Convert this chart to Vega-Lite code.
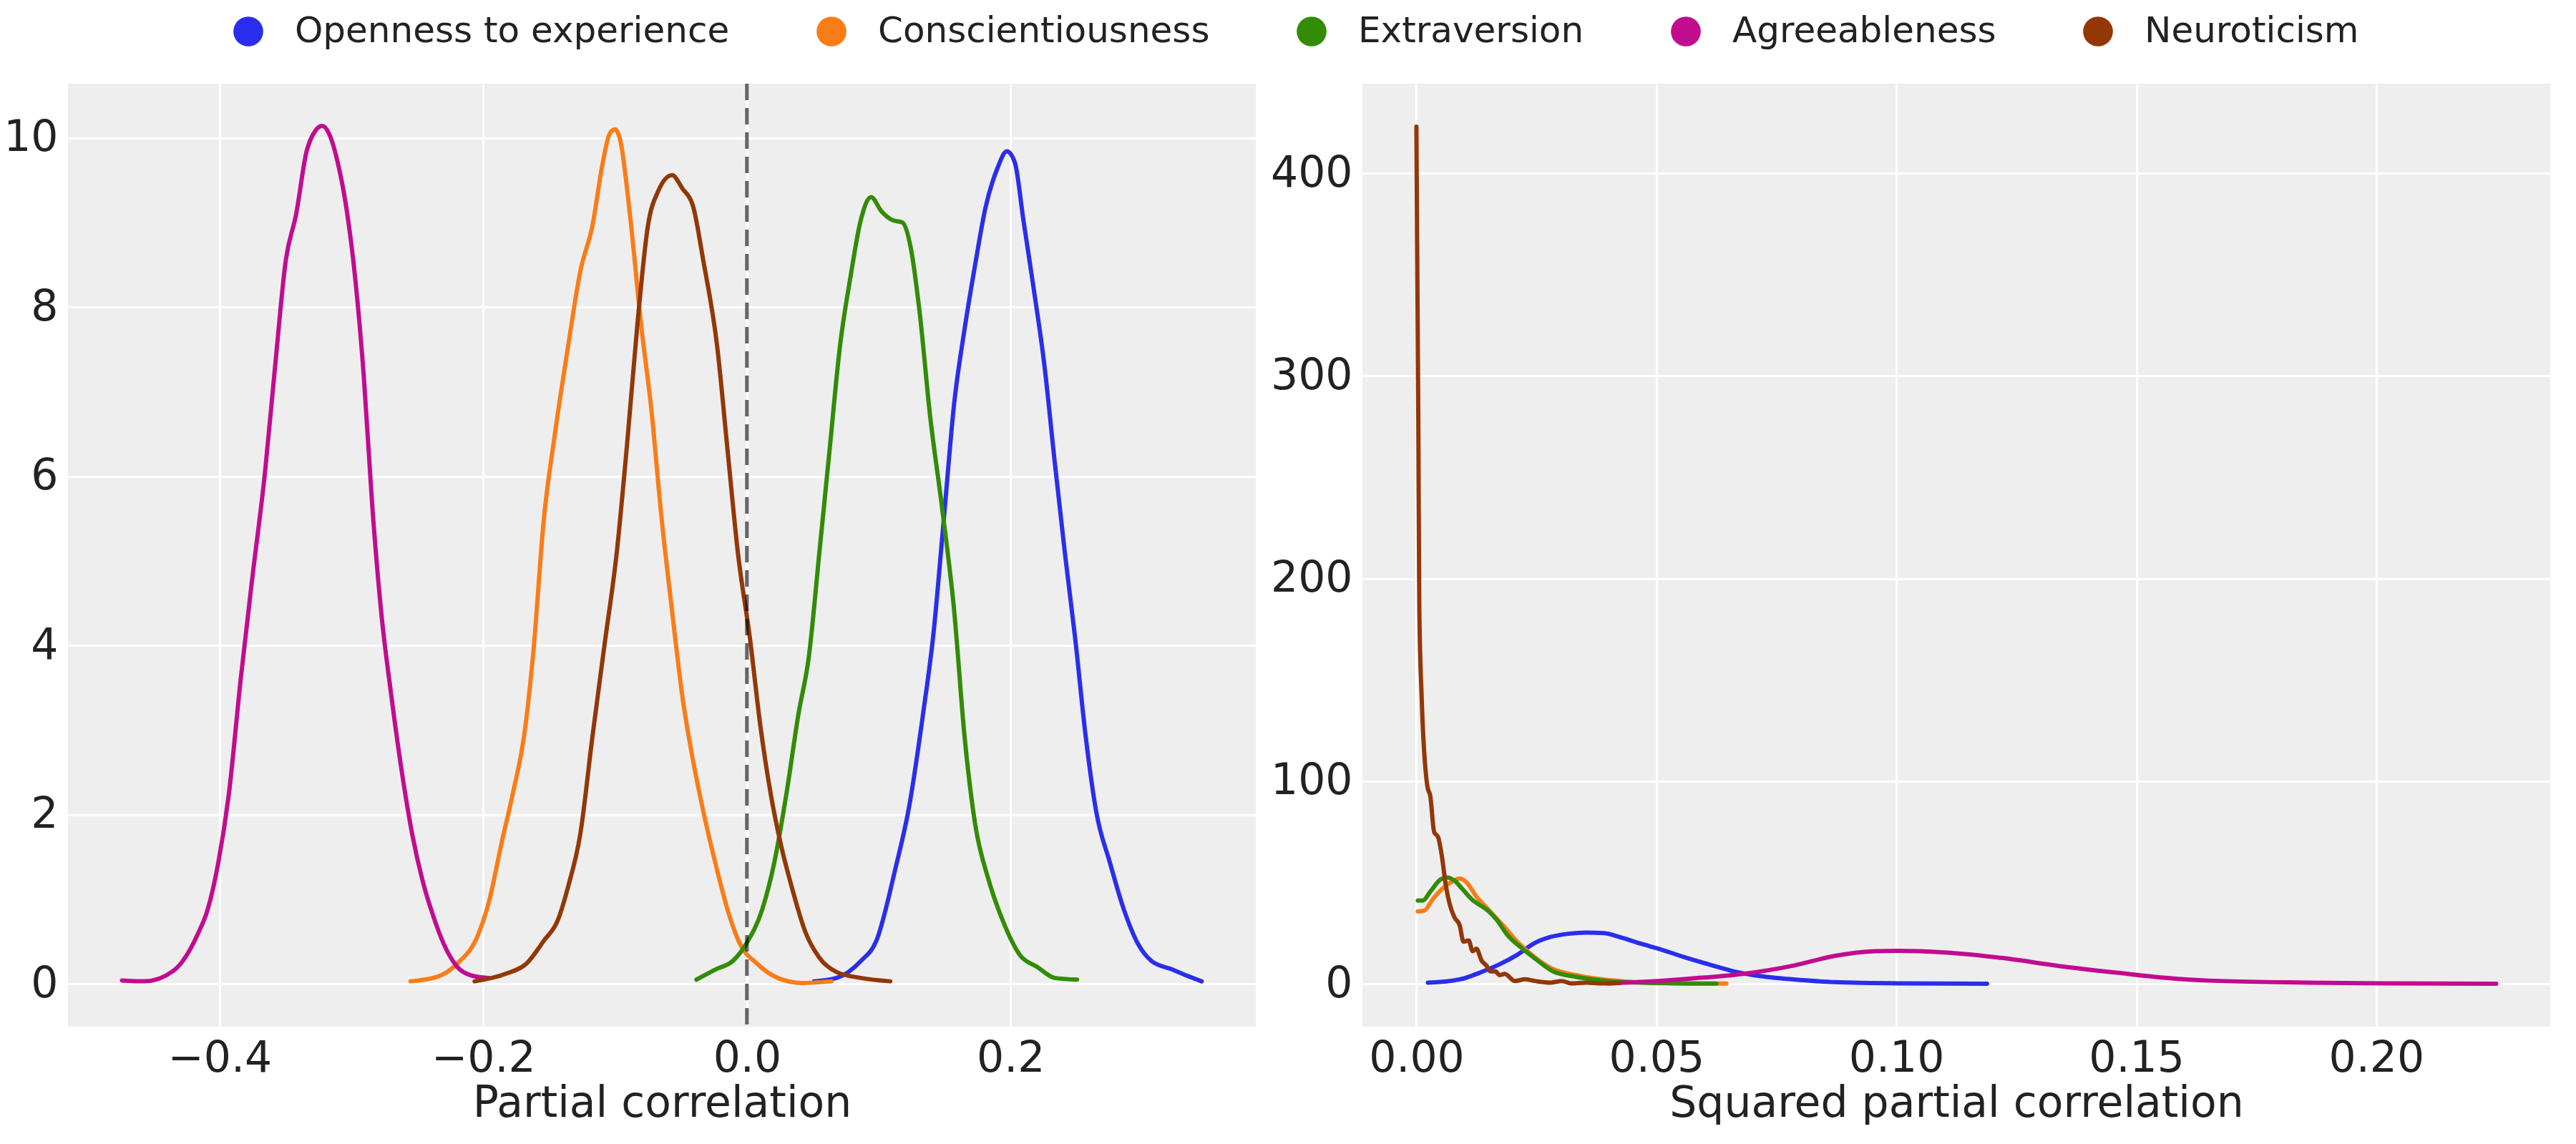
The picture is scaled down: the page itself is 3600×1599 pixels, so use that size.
{
  "$schema": "https://vega.github.io/schema/vega-lite/v6.json",
  "background": "white",
  "padding": {"left": 4, "top": 19, "right": 0, "bottom": 0},
  "bounds": "flush",
  "spacing": 149,
  "config": {
    "font": "DejaVu Sans",
    "view": {"fill": "#eeeeee", "stroke": null},
    "axis": {
      "domain": false, "ticks": false, "tickSize": 0,
      "grid": true, "gridColor": "white", "gridWidth": 3,
      "labelFont": "DejaVu Sans", "labelFontSize": 60, "labelColor": "#222222",
      "titleFont": "DejaVu Sans", "titleFontSize": 60, "titleFontWeight": "normal", "titleColor": "#222222"
    },
    "axisX": {"labelPadding": 15, "titlePadding": 4},
    "axisY": {"labelPadding": 14}
  },
  "datasets": {
    "partial": [
      {"trait": "Openness to experience", "x": 0.0509, "density": 0.03},
      {"trait": "Openness to experience", "x": 0.068, "density": 0.07},
      {"trait": "Openness to experience", "x": 0.0864, "density": 0.27},
      {"trait": "Openness to experience", "x": 0.0982, "density": 0.51},
      {"trait": "Openness to experience", "x": 0.1126, "density": 1.36},
      {"trait": "Openness to experience", "x": 0.1231, "density": 2.10},
      {"trait": "Openness to experience", "x": 0.1336, "density": 3.19},
      {"trait": "Openness to experience", "x": 0.1415, "density": 4.14},
      {"trait": "Openness to experience", "x": 0.1494, "density": 5.50},
      {"trait": "Openness to experience", "x": 0.1572, "density": 6.86},
      {"trait": "Openness to experience", "x": 0.1651, "density": 7.74},
      {"trait": "Openness to experience", "x": 0.173, "density": 8.49},
      {"trait": "Openness to experience", "x": 0.1809, "density": 9.17},
      {"trait": "Openness to experience", "x": 0.19, "density": 9.64},
      {"trait": "Openness to experience", "x": 0.1971, "density": 9.84},
      {"trait": "Openness to experience", "x": 0.2032, "density": 9.71},
      {"trait": "Openness to experience", "x": 0.2097, "density": 9.03},
      {"trait": "Openness to experience", "x": 0.2176, "density": 8.21},
      {"trait": "Openness to experience", "x": 0.2255, "density": 7.33},
      {"trait": "Openness to experience", "x": 0.2334, "density": 6.18},
      {"trait": "Openness to experience", "x": 0.2412, "density": 5.09},
      {"trait": "Openness to experience", "x": 0.2491, "density": 4.07},
      {"trait": "Openness to experience", "x": 0.257, "density": 2.92},
      {"trait": "Openness to experience", "x": 0.2649, "density": 2.04},
      {"trait": "Openness to experience", "x": 0.2754, "density": 1.43},
      {"trait": "Openness to experience", "x": 0.2859, "density": 0.88},
      {"trait": "Openness to experience", "x": 0.2964, "density": 0.48},
      {"trait": "Openness to experience", "x": 0.3069, "density": 0.27},
      {"trait": "Openness to experience", "x": 0.3226, "density": 0.17},
      {"trait": "Openness to experience", "x": 0.3331, "density": 0.10},
      {"trait": "Openness to experience", "x": 0.3449, "density": 0.03},

      {"trait": "Conscientiousness", "x": -0.2552, "density": 0.03},
      {"trait": "Conscientiousness", "x": -0.2355, "density": 0.08},
      {"trait": "Conscientiousness", "x": -0.2197, "density": 0.24},
      {"trait": "Conscientiousness", "x": -0.2039, "density": 0.58},
      {"trait": "Conscientiousness", "x": -0.196, "density": 0.95},
      {"trait": "Conscientiousness", "x": -0.1856, "density": 1.70},
      {"trait": "Conscientiousness", "x": -0.1777, "density": 2.24},
      {"trait": "Conscientiousness", "x": -0.1685, "density": 2.99},
      {"trait": "Conscientiousness", "x": -0.1619, "density": 3.94},
      {"trait": "Conscientiousness", "x": -0.154, "density": 5.50},
      {"trait": "Conscientiousness", "x": -0.1461, "density": 6.45},
      {"trait": "Conscientiousness", "x": -0.1356, "density": 7.54},
      {"trait": "Conscientiousness", "x": -0.1264, "density": 8.42},
      {"trait": "Conscientiousness", "x": -0.1172, "density": 8.96},
      {"trait": "Conscientiousness", "x": -0.1093, "density": 9.71},
      {"trait": "Conscientiousness", "x": -0.1041, "density": 10.05},
      {"trait": "Conscientiousness", "x": -0.1001, "density": 10.10},
      {"trait": "Conscientiousness", "x": -0.0962, "density": 9.98},
      {"trait": "Conscientiousness", "x": -0.0883, "density": 9.03},
      {"trait": "Conscientiousness", "x": -0.0804, "density": 7.81},
      {"trait": "Conscientiousness", "x": -0.0725, "density": 6.79},
      {"trait": "Conscientiousness", "x": -0.0647, "density": 5.50},
      {"trait": "Conscientiousness", "x": -0.0568, "density": 4.41},
      {"trait": "Conscientiousness", "x": -0.0489, "density": 3.39},
      {"trait": "Conscientiousness", "x": -0.041, "density": 2.65},
      {"trait": "Conscientiousness", "x": -0.0331, "density": 2.04},
      {"trait": "Conscientiousness", "x": -0.0235, "density": 1.40},
      {"trait": "Conscientiousness", "x": -0.0134, "density": 0.81},
      {"trait": "Conscientiousness", "x": -0.0055, "density": 0.48},
      {"trait": "Conscientiousness", "x": 0.0076, "density": 0.24},
      {"trait": "Conscientiousness", "x": 0.0234, "density": 0.07},
      {"trait": "Conscientiousness", "x": 0.0417, "density": 0.01},
      {"trait": "Conscientiousness", "x": 0.064, "density": 0.03},

      {"trait": "Extraversion", "x": -0.0383, "density": 0.05},
      {"trait": "Extraversion", "x": -0.0239, "density": 0.17},
      {"trait": "Extraversion", "x": -0.0108, "density": 0.27},
      {"trait": "Extraversion", "x": -0.0003, "density": 0.48},
      {"trait": "Extraversion", "x": 0.0116, "density": 0.88},
      {"trait": "Extraversion", "x": 0.0207, "density": 1.43},
      {"trait": "Extraversion", "x": 0.0299, "density": 2.24},
      {"trait": "Extraversion", "x": 0.0391, "density": 3.19},
      {"trait": "Extraversion", "x": 0.047, "density": 3.87},
      {"trait": "Extraversion", "x": 0.0549, "density": 5.09},
      {"trait": "Extraversion", "x": 0.0627, "density": 6.31},
      {"trait": "Extraversion", "x": 0.0706, "density": 7.54},
      {"trait": "Extraversion", "x": 0.0785, "density": 8.35},
      {"trait": "Extraversion", "x": 0.0864, "density": 9.03},
      {"trait": "Extraversion", "x": 0.0942, "density": 9.30},
      {"trait": "Extraversion", "x": 0.1021, "density": 9.13},
      {"trait": "Extraversion", "x": 0.11, "density": 9.03},
      {"trait": "Extraversion", "x": 0.1179, "density": 9.00},
      {"trait": "Extraversion", "x": 0.1244, "density": 8.69},
      {"trait": "Extraversion", "x": 0.131, "density": 7.94},
      {"trait": "Extraversion", "x": 0.1389, "density": 6.72},
      {"trait": "Extraversion", "x": 0.148, "density": 5.63},
      {"trait": "Extraversion", "x": 0.1572, "density": 4.41},
      {"trait": "Extraversion", "x": 0.1651, "density": 2.92},
      {"trait": "Extraversion", "x": 0.173, "density": 1.90},
      {"trait": "Extraversion", "x": 0.1835, "density": 1.22},
      {"trait": "Extraversion", "x": 0.194, "density": 0.75},
      {"trait": "Extraversion", "x": 0.2071, "density": 0.34},
      {"trait": "Extraversion", "x": 0.2202, "density": 0.20},
      {"trait": "Extraversion", "x": 0.2334, "density": 0.07},
      {"trait": "Extraversion", "x": 0.2504, "density": 0.05},

      {"trait": "Agreeableness", "x": -0.474, "density": 0.04},
      {"trait": "Agreeableness", "x": -0.457, "density": 0.03},
      {"trait": "Agreeableness", "x": -0.435, "density": 0.155},
      {"trait": "Agreeableness", "x": -0.4165, "density": 0.59},
      {"trait": "Agreeableness", "x": -0.409, "density": 0.88},
      {"trait": "Agreeableness", "x": -0.401, "density": 1.43},
      {"trait": "Agreeableness", "x": -0.393, "density": 2.24},
      {"trait": "Agreeableness", "x": -0.384, "density": 3.60},
      {"trait": "Agreeableness", "x": -0.375, "density": 4.82},
      {"trait": "Agreeableness", "x": -0.3656, "density": 6.04},
      {"trait": "Agreeableness", "x": -0.3577, "density": 7.33},
      {"trait": "Agreeableness", "x": -0.3498, "density": 8.55},
      {"trait": "Agreeableness", "x": -0.3419, "density": 9.10},
      {"trait": "Agreeableness", "x": -0.334, "density": 9.84},
      {"trait": "Agreeableness", "x": -0.3275, "density": 10.08},
      {"trait": "Agreeableness", "x": -0.3222, "density": 10.14},
      {"trait": "Agreeableness", "x": -0.317, "density": 10.05},
      {"trait": "Agreeableness", "x": -0.3104, "density": 9.71},
      {"trait": "Agreeableness", "x": -0.3038, "density": 9.17},
      {"trait": "Agreeableness", "x": -0.2972, "density": 8.35},
      {"trait": "Agreeableness", "x": -0.2907, "density": 7.20},
      {"trait": "Agreeableness", "x": -0.2841, "density": 5.63},
      {"trait": "Agreeableness", "x": -0.2775, "density": 4.41},
      {"trait": "Agreeableness", "x": -0.2696, "density": 3.39},
      {"trait": "Agreeableness", "x": -0.2618, "density": 2.51},
      {"trait": "Agreeableness", "x": -0.2539, "density": 1.77},
      {"trait": "Agreeableness", "x": -0.246, "density": 1.22},
      {"trait": "Agreeableness", "x": -0.2381, "density": 0.81},
      {"trait": "Agreeableness", "x": -0.2302, "density": 0.48},
      {"trait": "Agreeableness", "x": -0.2197, "density": 0.20},
      {"trait": "Agreeableness", "x": -0.2092, "density": 0.10},
      {"trait": "Agreeableness", "x": -0.196, "density": 0.07},

      {"trait": "Neuroticism", "x": -0.2066, "density": 0.03},
      {"trait": "Neuroticism", "x": -0.1829, "density": 0.12},
      {"trait": "Neuroticism", "x": -0.1672, "density": 0.24},
      {"trait": "Neuroticism", "x": -0.154, "density": 0.51},
      {"trait": "Neuroticism", "x": -0.1435, "density": 0.75},
      {"trait": "Neuroticism", "x": -0.1356, "density": 1.15},
      {"trait": "Neuroticism", "x": -0.1264, "density": 1.77},
      {"trait": "Neuroticism", "x": -0.1172, "density": 2.92},
      {"trait": "Neuroticism", "x": -0.108, "density": 4.01},
      {"trait": "Neuroticism", "x": -0.0988, "density": 5.09},
      {"trait": "Neuroticism", "x": -0.0909, "density": 6.38},
      {"trait": "Neuroticism", "x": -0.083, "density": 7.81},
      {"trait": "Neuroticism", "x": -0.0751, "density": 8.96},
      {"trait": "Neuroticism", "x": -0.0673, "density": 9.37},
      {"trait": "Neuroticism", "x": -0.0568, "density": 9.56},
      {"trait": "Neuroticism", "x": -0.0489, "density": 9.40},
      {"trait": "Neuroticism", "x": -0.041, "density": 9.20},
      {"trait": "Neuroticism", "x": -0.0331, "density": 8.55},
      {"trait": "Neuroticism", "x": -0.0226, "density": 7.54},
      {"trait": "Neuroticism", "x": -0.0147, "density": 6.31},
      {"trait": "Neuroticism", "x": -0.0068, "density": 5.09},
      {"trait": "Neuroticism", "x": 0.0024, "density": 4.07},
      {"trait": "Neuroticism", "x": 0.0102, "density": 3.05},
      {"trait": "Neuroticism", "x": 0.0181, "density": 2.24},
      {"trait": "Neuroticism", "x": 0.026, "density": 1.63},
      {"trait": "Neuroticism", "x": 0.0339, "density": 1.15},
      {"trait": "Neuroticism", "x": 0.0444, "density": 0.61},
      {"trait": "Neuroticism", "x": 0.0549, "density": 0.31},
      {"trait": "Neuroticism", "x": 0.068, "density": 0.14},
      {"trait": "Neuroticism", "x": 0.0864, "density": 0.07},
      {"trait": "Neuroticism", "x": 0.1087, "density": 0.03}
    ],
    "squared": [
      {"trait": "Openness to experience", "x": 0.0024, "density": 0.6},
      {"trait": "Openness to experience", "x": 0.0066, "density": 1.3},
      {"trait": "Openness to experience", "x": 0.0098, "density": 2.6},
      {"trait": "Openness to experience", "x": 0.013, "density": 5.3},
      {"trait": "Openness to experience", "x": 0.0173, "density": 9.6},
      {"trait": "Openness to experience", "x": 0.021, "density": 14.3},
      {"trait": "Openness to experience", "x": 0.0247, "density": 20.2},
      {"trait": "Openness to experience", "x": 0.0279, "density": 23.1},
      {"trait": "Openness to experience", "x": 0.0317, "density": 24.7},
      {"trait": "Openness to experience", "x": 0.0354, "density": 25.3},
      {"trait": "Openness to experience", "x": 0.0391, "density": 25.0},
      {"trait": "Openness to experience", "x": 0.0423, "density": 23.1},
      {"trait": "Openness to experience", "x": 0.0466, "density": 19.9},
      {"trait": "Openness to experience", "x": 0.0513, "density": 16.7},
      {"trait": "Openness to experience", "x": 0.0556, "density": 13.3},
      {"trait": "Openness to experience", "x": 0.0609, "density": 9.6},
      {"trait": "Openness to experience", "x": 0.0662, "density": 6.1},
      {"trait": "Openness to experience", "x": 0.0716, "density": 3.8},
      {"trait": "Openness to experience", "x": 0.0805, "density": 1.8},
      {"trait": "Openness to experience", "x": 0.0872, "density": 0.8},
      {"trait": "Openness to experience", "x": 0.1016, "density": 0.2},
      {"trait": "Openness to experience", "x": 0.1189, "density": 0.0},

      {"trait": "Conscientiousness", "x": 0.0003, "density": 35.7},
      {"trait": "Conscientiousness", "x": 0.0016, "density": 36.1},
      {"trait": "Conscientiousness", "x": 0.0035, "density": 42.0},
      {"trait": "Conscientiousness", "x": 0.0056, "density": 47.3},
      {"trait": "Conscientiousness", "x": 0.0077, "density": 50.8},
      {"trait": "Conscientiousness", "x": 0.009, "density": 51.9},
      {"trait": "Conscientiousness", "x": 0.0104, "density": 50.2},
      {"trait": "Conscientiousness", "x": 0.0125, "density": 43.1},
      {"trait": "Conscientiousness", "x": 0.0152, "density": 36.1},
      {"trait": "Conscientiousness", "x": 0.0184, "density": 27.9},
      {"trait": "Conscientiousness", "x": 0.021, "density": 20.8},
      {"trait": "Conscientiousness", "x": 0.0237, "density": 14.9},
      {"trait": "Conscientiousness", "x": 0.0279, "density": 7.9},
      {"trait": "Conscientiousness", "x": 0.0343, "density": 3.8},
      {"trait": "Conscientiousness", "x": 0.0423, "density": 1.4},
      {"trait": "Conscientiousness", "x": 0.0503, "density": 0.5},
      {"trait": "Conscientiousness", "x": 0.0646, "density": 0.1},

      {"trait": "Extraversion", "x": 0.0003, "density": 41.1},
      {"trait": "Extraversion", "x": 0.0013, "density": 41.1},
      {"trait": "Extraversion", "x": 0.0029, "density": 45.5},
      {"trait": "Extraversion", "x": 0.0051, "density": 51.6},
      {"trait": "Extraversion", "x": 0.0064, "density": 52.5},
      {"trait": "Extraversion", "x": 0.008, "density": 50.8},
      {"trait": "Extraversion", "x": 0.0096, "density": 46.7},
      {"trait": "Extraversion", "x": 0.0114, "density": 42.0},
      {"trait": "Extraversion", "x": 0.0152, "density": 35.5},
      {"trait": "Extraversion", "x": 0.0168, "density": 31.4},
      {"trait": "Extraversion", "x": 0.0189, "density": 24.3},
      {"trait": "Extraversion", "x": 0.0221, "density": 17.3},
      {"trait": "Extraversion", "x": 0.0253, "density": 11.4},
      {"trait": "Extraversion", "x": 0.0285, "density": 6.1},
      {"trait": "Extraversion", "x": 0.0333, "density": 3.4},
      {"trait": "Extraversion", "x": 0.0396, "density": 1.4},
      {"trait": "Extraversion", "x": 0.0476, "density": 0.5},
      {"trait": "Extraversion", "x": 0.0625, "density": 0.1},

      {"trait": "Agreeableness", "x": 0.0400, "density": 0.2},
      {"trait": "Agreeableness", "x": 0.0476, "density": 1.0},
      {"trait": "Agreeableness", "x": 0.0572, "density": 2.6},
      {"trait": "Agreeableness", "x": 0.068, "density": 4.9},
      {"trait": "Agreeableness", "x": 0.0788, "density": 9.1},
      {"trait": "Agreeableness", "x": 0.0872, "density": 13.8},
      {"trait": "Agreeableness", "x": 0.0956, "density": 16.1},
      {"trait": "Agreeableness", "x": 0.1004, "density": 16.3},
      {"trait": "Agreeableness", "x": 0.11, "density": 15.5},
      {"trait": "Agreeableness", "x": 0.1219, "density": 12.8},
      {"trait": "Agreeableness", "x": 0.1339, "density": 8.8},
      {"trait": "Agreeableness", "x": 0.1459, "density": 5.5},
      {"trait": "Agreeableness", "x": 0.1579, "density": 2.6},
      {"trait": "Agreeableness", "x": 0.1675, "density": 1.4},
      {"trait": "Agreeableness", "x": 0.1855, "density": 0.6},
      {"trait": "Agreeableness", "x": 0.2035, "density": 0.2},
      {"trait": "Agreeableness", "x": 0.225, "density": 0.0},

      {"trait": "Neuroticism", "x": 0.0, "density": 423},
      {"trait": "Neuroticism", "x": 0.00015, "density": 365.9},
      {"trait": "Neuroticism", "x": 0.0004, "density": 275.9},
      {"trait": "Neuroticism", "x": 0.0006, "density": 185.9},
      {"trait": "Neuroticism", "x": 0.0011, "density": 141},
      {"trait": "Neuroticism", "x": 0.0019, "density": 105.4},
      {"trait": "Neuroticism", "x": 0.0023, "density": 97.3},
      {"trait": "Neuroticism", "x": 0.0029, "density": 92.5},
      {"trait": "Neuroticism", "x": 0.0037, "density": 74.8},
      {"trait": "Neuroticism", "x": 0.0045, "density": 72.5},
      {"trait": "Neuroticism", "x": 0.0053, "density": 63.1},
      {"trait": "Neuroticism", "x": 0.0061, "density": 49.0},
      {"trait": "Neuroticism", "x": 0.0072, "density": 37.2},
      {"trait": "Neuroticism", "x": 0.008, "density": 32.5},
      {"trait": "Neuroticism", "x": 0.009, "density": 29.0},
      {"trait": "Neuroticism", "x": 0.0098, "density": 20.8},
      {"trait": "Neuroticism", "x": 0.0109, "density": 21.4},
      {"trait": "Neuroticism", "x": 0.0117, "density": 16.1},
      {"trait": "Neuroticism", "x": 0.0125, "density": 17.3},
      {"trait": "Neuroticism", "x": 0.0136, "density": 11.4},
      {"trait": "Neuroticism", "x": 0.0146, "density": 9.0},
      {"trait": "Neuroticism", "x": 0.0154, "density": 6.1},
      {"trait": "Neuroticism", "x": 0.0165, "density": 6.1},
      {"trait": "Neuroticism", "x": 0.0173, "density": 4.3},
      {"trait": "Neuroticism", "x": 0.0184, "density": 4.9},
      {"trait": "Neuroticism", "x": 0.0205, "density": 1.4},
      {"trait": "Neuroticism", "x": 0.0226, "density": 2.2},
      {"trait": "Neuroticism", "x": 0.0247, "density": 1.4},
      {"trait": "Neuroticism", "x": 0.0279, "density": 0.6},
      {"trait": "Neuroticism", "x": 0.0303, "density": 1.4},
      {"trait": "Neuroticism", "x": 0.0322, "density": 0.2},
      {"trait": "Neuroticism", "x": 0.0354, "density": 0.6},
      {"trait": "Neuroticism", "x": 0.0386, "density": 0.2},
      {"trait": "Neuroticism", "x": 0.0423, "density": 0.4}
    ]
  },
  "hconcat": [
    {
      "width": 1660,
      "height": 1318,
      "layer": [
        {
          "data": {"name": "partial"},
          "mark": {"type": "line", "strokeWidth": 6, "interpolate": "monotone", "strokeCap": "round", "strokeJoin": "round"},
          "encoding": {
            "x": {"field": "x", "type": "quantitative",
                  "scale": {"domain": [-0.515, 0.386], "nice": false, "zero": false},
                  "axis": {"values": [-0.4, -0.2, 0, 0.2], "format": ".1f", "title": "Partial correlation"}},
            "y": {"field": "density", "type": "quantitative",
                  "scale": {"domain": [-0.506, 10.64], "nice": false, "zero": false},
                  "axis": {"values": [0, 2, 4, 6, 8, 10], "format": "d", "title": null}},
            "color": {"field": "trait", "type": "nominal",
                      "scale": {"domain": ["Openness to experience", "Conscientiousness", "Extraversion", "Agreeableness", "Neuroticism"],
                                "range": ["#2a2eec", "#fa7c17", "#328c06", "#c10c90", "#933708"]},
                      "legend": {"orient": "none", "legendX": 227, "legendY": -98, "direction": "horizontal", "title": null,
                                 "symbolType": "circle", "symbolSize": 1740, "symbolStrokeWidth": 0,
                                 "labelFont": "DejaVu Sans", "labelFontSize": 50, "labelColor": "#222222", "labelLimit": 0,
                                 "labelOffset": 40, "columnPadding": 117, "padding": 0,
                                 "encode": {"symbols": {"update": {"fill": {"scale": "color", "field": "value"}, "fillOpacity": {"value": 1}}}}}}
          }
        },
        {
          "data": {"values": [{}]},
          "mark": {"type": "rule", "strokeWidth": 5, "strokeDash": [23, 11], "color": "#000000", "opacity": 0.6},
          "encoding": {"x": {"datum": 0, "type": "quantitative"}}
        }
      ]
    },
    {
      "width": 1660,
      "height": 1318,
      "data": {"name": "squared"},
      "mark": {"type": "line", "strokeWidth": 6, "interpolate": "monotone", "strokeCap": "round", "strokeJoin": "round"},
      "encoding": {
        "x": {"field": "x", "type": "quantitative",
              "scale": {"domain": [-0.01125, 0.23625], "nice": false, "zero": false},
              "axis": {"values": [0, 0.05, 0.1, 0.15, 0.2], "format": ".2f", "title": "Squared partial correlation"}},
        "y": {"field": "density", "type": "quantitative",
              "scale": {"domain": [-21.15, 444.15], "nice": false, "zero": false},
              "axis": {"values": [0, 100, 200, 300, 400], "format": "d", "title": null}},
        "color": {"field": "trait", "type": "nominal",
                  "scale": {"domain": ["Openness to experience", "Conscientiousness", "Extraversion", "Agreeableness", "Neuroticism"],
                            "range": ["#2a2eec", "#fa7c17", "#328c06", "#c10c90", "#933708"]},
                  "legend": {"orient": "none", "legendX": 227, "legendY": -98, "direction": "horizontal", "title": null,
                             "symbolType": "circle", "symbolSize": 1740, "symbolStrokeWidth": 0,
                             "labelFont": "DejaVu Sans", "labelFontSize": 50, "labelColor": "#222222", "labelLimit": 0,
                             "labelOffset": 40, "columnPadding": 117, "padding": 0,
                             "encode": {"symbols": {"update": {"fill": {"scale": "color", "field": "value"}, "fillOpacity": {"value": 1}}}}}}
      }
    }
  ]
}
